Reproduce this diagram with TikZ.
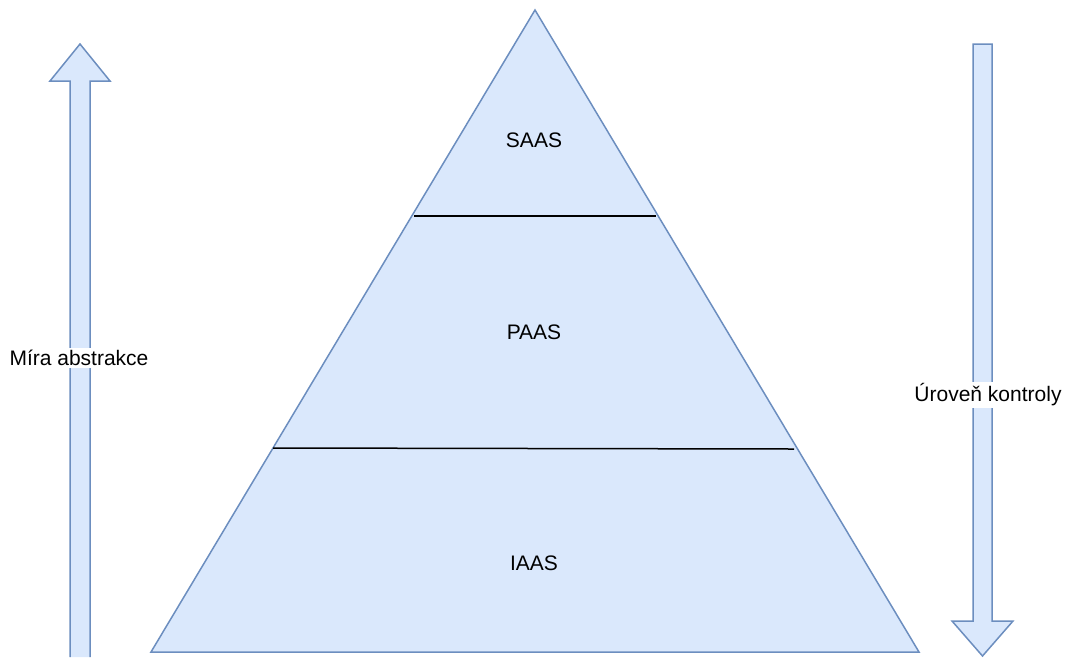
\documentclass[tikz,border=0pt]{standalone}
\usepackage{fontspec}
\setmainfont{Liberation Sans}
\definecolor{boxfill}{HTML}{DAE8FC}
\definecolor{boxline}{HTML}{6C8EBF}

\begin{document}
\begin{tikzpicture}[x=1pt, y=-1pt, font=\fontsize{21}{25}\selectfont,
        blueshape/.style={draw=boxline, fill=boxfill, line width=1.5pt,
            line join=miter}]
    \useasboundingbox (0, 0) rectangle (1065, 657);

    % arrows at the sides
    \draw[blueshape] (70, 657) -- (70, 81) -- (50, 81) -- (80, 44) -- (110, 81)
        -- (90, 81) -- (90, 657);
    \draw[blueshape] (973, 44) -- (973, 621) -- (952, 621) -- (982.5, 656)
        -- (1013, 621) -- (992, 621) -- (992, 44) -- cycle;

    % pyramid
    \coordinate (top) at (535, 10);
    \coordinate (left) at (151, 652);
    \coordinate (right) at (919, 652);
    \draw[blueshape] (top) -- (left) -- (right) -- cycle;
    \coordinate (saas-l) at (414, 216);
    \coordinate (saas-r) at (656, 216);
    \coordinate (paas-l) at (273, 448);
    \coordinate (paas-r) at (794, 449);
    \draw[line width=1.5pt] (saas-l) -- (saas-r);
    \draw[line width=1.5pt] (paas-l) -- (paas-r);

    \node (saas) at (534, 140) {SAAS};
    \node (paas) at (534, 332) {PAAS};
    \node (iaas) at (534, 563) {IAAS};

    \node[fill=white, inner sep=2pt] (abstrakce) at (79, 358) {Míra abstrakce};
    \node[fill=white, inner sep=2pt] (kontrola) at (988, 395) {Úroveň kontroly};
\end{tikzpicture}
\end{document}
